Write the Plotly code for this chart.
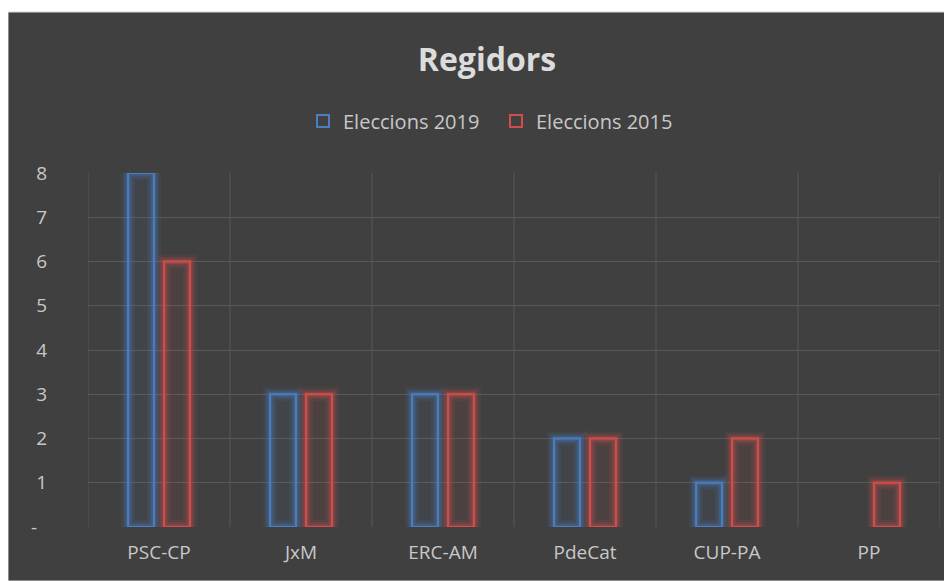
import plotly.graph_objects as go

categories = ["PSC-CP", "JxM", "ERC-AM", "PdeCat", "CUP-PA", "PP"]
seats_2019 = [8, 3, 3, 2, 1, 0]
seats_2015 = [6, 3, 3, 2, 2, 1]
series_names = ["Eleccions 2019", "Eleccions 2015"]
tick_vals = [0, 1, 2, 3, 4, 5, 6, 7, 8]
tick_text = ["-\u00a0\u00a0", "1", "2", "3", "4", "5", "6", "7", "8"]

BLUE = (74, 126, 193)
RED = (208, 78, 76)
FONT = "Open Sans"
W, H = 944, 573
L, R, T, B = 80, 12, 165, 54


def rgba(c, a):
    return f"rgba({c[0]},{c[1]},{c[2]},{a})"


fig = go.Figure()
for name, vals, col, grp in [(series_names[0], seats_2019, BLUE, "a"),
                             (series_names[1], seats_2015, RED, "b")]:
    y = [v if v else None for v in vals]
    for fill, width, alpha in [(0.08, 14, 0.10), (0.0, 9, 0.18), (0.0, 5, 0.28)]:
        fig.add_trace(go.Bar(x=categories, y=y, offsetgroup=grp, showlegend=False,
                             hoverinfo="skip",
                             marker=dict(color=rgba(col, fill),
                                         line=dict(color=rgba(col, alpha), width=width))))
    fig.add_trace(go.Bar(x=categories, y=y, offsetgroup=grp, name=name,
                         marker=dict(color="rgba(0,0,0,0)",
                                     line=dict(color=rgba(col, 1), width=2))))

pw, ph = W - L - R, H - T - B
x0, x1 = (0 - L) / pw, (W - 1 - L) / pw
y0, y1 = (H - B - H) / ph, (H - B - 4) / ph
fig.add_shape(type="rect", xref="paper", yref="paper", x0=x0, x1=x1, y0=y0, y1=y1,
              fillcolor="#404040", line=dict(color="#d9d9d9", width=1), layer="below")

fig.update_layout(
    width=W, height=H,
    margin=dict(l=L, r=R, t=T, b=B),
    paper_bgcolor="white", plot_bgcolor="rgba(0,0,0,0)",
    barmode="group", bargap=0.493, bargroupgap=0.28,
    font=dict(family=FONT, color="#c8c8c8", size=19),
    title=dict(text="<b>Regidors</b>", x=479 / W, xanchor="center",
               y=1 - 52 / H, yanchor="middle",
               font=dict(size=32, color="#dcdcdc", family=FONT)),
    legend=dict(orientation="h", x=488 / W, xanchor="center", xref="container",
                y=1 - 113 / H, yref="container", yanchor="middle",
                font=dict(size=20, color="#c8c8c8"), bgcolor="rgba(0,0,0,0)",
                itemwidth=30, entrywidth=148, entrywidthmode="pixels"),
    xaxis=dict(showgrid=False, showline=False, zeroline=False,
               ticks="", ticklabelstandoff=12, tickfont=dict(size=19),
               range=[-0.5, 5.5]),
    yaxis=dict(range=[0, 8], tickvals=tick_vals, ticktext=tick_text,
               showgrid=True, gridcolor="#595959", zeroline=False, showline=False,
               ticks="", ticklabelstandoff=40, tickfont=dict(size=19)),
)

# vertical category boundary grid lines
for i in range(len(categories) + 1):
    fig.add_shape(type="line", xref="x", yref="paper", x0=i - 0.5, x1=i - 0.5,
                  y0=0, y1=1, line=dict(color="#595959", width=1), layer="below")

fig.write_html("out.html")
